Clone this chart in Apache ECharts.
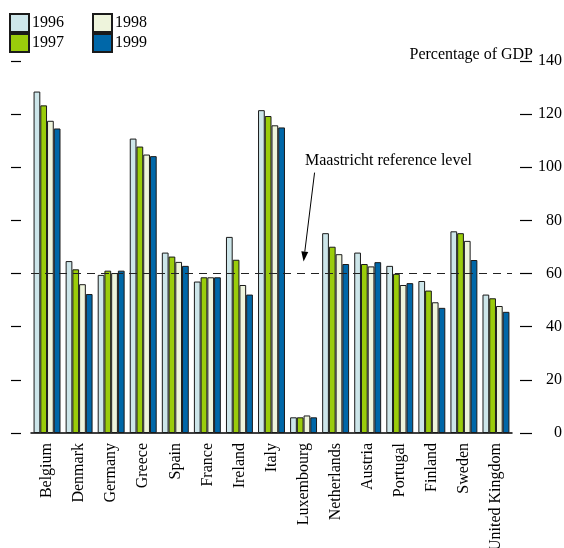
<!DOCTYPE html>
<html>
<head>
<meta charset="utf-8">
<script src="https://cdn.jsdelivr.net/npm/echarts@6/dist/echarts.min.js"></script>
<style>
  html, body { margin: 0; padding: 0; background: #fff; }
  #debt { width: 564px; height: 548px; }
</style>
</head>
<body>
<div id="debt"></div>
<script>
  // gross government debt, % of GDP
  var countries = ['Belgium', 'Denmark', 'Germany', 'Greece', 'Spain', 'France', 'Ireland', 'Italy',
    'Luxembourg', 'Netherlands', 'Austria', 'Portugal', 'Finland', 'Sweden', 'United Kingdom'];
  var years = ['1996', '1997', '1998', '1999'];
  var debt1996 = [128.5, 64.7, 59.5, 110.8, 67.9, 57.0, 73.8, 121.5, 5.9, 75.2, 67.9, 62.9, 57.2, 75.9, 52.1];
  var debt1997 = [123.3, 61.6, 61.1, 107.8, 66.4, 58.6, 65.2, 119.3, 5.9, 70.1, 63.6, 59.9, 53.6, 75.2, 50.7];
  var debt1998 = [117.5, 56.0, 60.2, 104.8, 64.4, 58.6, 55.7, 115.8, 6.6, 67.3, 62.7, 55.7, 49.2, 72.3, 47.8];
  var debt1999 = [114.6, 52.3, 61.1, 104.2, 62.9, 58.6, 52.1, 115.0, 5.9, 63.6, 64.3, 56.4, 47.1, 65.1, 45.6];
  var yTicks = [0, 20, 40, 60, 80, 100, 120, 140];
  var refLevel = 60;

  var chartDom = document.getElementById('debt');
  var myChart = echarts.init(chartDom);
  var font = 'Liberation Serif';
  var colors = ['#cde6ea', '#9acc0b', '#eef4dc', '#0067a8'];
  var allDebt = [debt1996, debt1997, debt1998, debt1999];

  var series = years.map(function (y, i) {
    var s = {
      name: y,
      type: 'bar',
      data: allDebt[i],
      barGap: 0,
      barCategoryGap: '16%',
      itemStyle: {
        color: colors[i],
        borderColor: '#1a1a1a',
        borderWidth: 1
      },
      emphasis: { disabled: true }
    };
    if (i === 0) {
      s.markLine = {
        silent: true,
        symbol: 'none',
        label: { show: false },
        lineStyle: { color: '#222', width: 1, type: [8, 6] },
        data: [{ yAxis: refLevel }]
      };
    }
    return s;
  });

  var legendBase = {
    orient: 'vertical',
    itemWidth: 19,
    itemHeight: 18,
    itemGap: 0,
    icon: 'rect',
    selectedMode: false,
    textStyle: { fontFamily: font, fontSize: 16, color: '#000', padding: [0, 0, 0, -2] },
    padding: 0
  };

  var option = {
    animation: false,
    textStyle: { fontFamily: font },
    legend: [
      Object.assign({}, legendBase, { left: 9, top: 13, data: ['1996', '1997'] }),
      Object.assign({}, legendBase, { left: 92, top: 13, data: ['1998', '1999'] })
    ],
    grid: { left: 31, right: 52, top: 61, bottom: 115, containLabel: false, outerBoundsMode: 'none' },
    xAxis: {
      type: 'category',
      data: countries,
      axisLine: { lineStyle: { color: '#000', width: 1.5 } },
      axisTick: { inside: true, length: 6, lineStyle: { color: '#000', width: 1 } },
      axisLabel: {
        rotate: 90,
        interval: 0,
        margin: 10,
        color: '#000',
        fontFamily: font,
        fontSize: 16
      }
    },
    yAxis: [
      {
        type: 'value',
        min: yTicks[0],
        max: yTicks[yTicks.length - 1],
        interval: 20,
        position: 'left',
        offset: 10,
        splitLine: { show: false },
        axisLine: { show: false },
        axisTick: { show: true, length: 10, lineStyle: { color: '#000', width: 1.2 } },
        axisLabel: { show: false }
      },
      {
        type: 'value',
        min: yTicks[0],
        max: yTicks[yTicks.length - 1],
        interval: 20,
        position: 'right',
        offset: 8,
        splitLine: { show: false },
        axisLine: { show: false },
        axisTick: { show: true, length: 12, lineStyle: { color: '#000', width: 1.2 } },
        axisLabel: {
          align: 'right',
          margin: 42,
          color: '#000',
          fontFamily: font,
          fontSize: 16
        }
      }
    ],
    series: series
  };

  option && myChart.setOption(option);

  // annotations: axis title, reference label and arrow pointing at the 60% line
  var tip = myChart.convertToPixel({ xAxisIndex: 0, yAxisIndex: 0 }, ['Luxembourg', 64.5]);
  var tail = myChart.convertToPixel({ xAxisIndex: 0, yAxisIndex: 0 }, ['Luxembourg', 98]);
  tail[0] += 11;
  var ang = Math.atan2(tip[1] - tail[1], tip[0] - tail[0]);
  var hl = 10, hw = 3.5;
  var bx = tip[0] - hl * Math.cos(ang), by = tip[1] - hl * Math.sin(ang);
  var head = [
    tip,
    [bx + hw * Math.sin(ang), by - hw * Math.cos(ang)],
    [bx - hw * Math.sin(ang), by + hw * Math.cos(ang)]
  ];

  myChart.setOption({
    graphic: [
      {
        type: 'text',
        right: 31,
        top: 47,
        style: { text: 'Percentage of GDP', font: '16px "Liberation Serif"', fill: '#000' }
      },
      {
        type: 'text',
        left: 305,
        top: 153,
        style: { text: 'Maastricht reference level', font: '16px "Liberation Serif"', fill: '#000' }
      },
      {
        type: 'line',
        shape: { x1: tail[0], y1: tail[1], x2: bx, y2: by },
        style: { stroke: '#000', lineWidth: 1 }
      },
      {
        type: 'polygon',
        shape: { points: head },
        style: { fill: '#000' }
      }
    ]
  });
</script>
</body>
</html>
